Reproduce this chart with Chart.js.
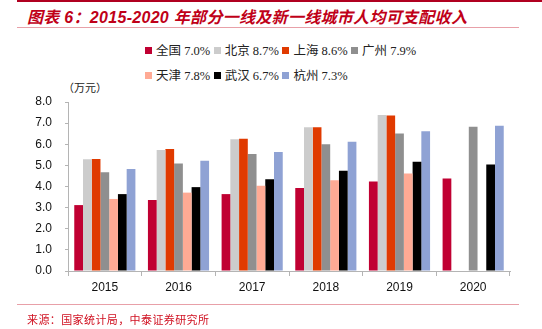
<!DOCTYPE html>
<html>
<head>
<meta charset="utf-8">
<script src="https://cdn.jsdelivr.net/npm/chart.js@4/dist/chart.umd.min.js"></script>
<style>
  html, body { margin: 0; padding: 0; background: #fff; }
  #wrap { position: relative; width: 542px; height: 329px; overflow: hidden; }
  #area { position: absolute; left: 0; top: 0; }
  .topline { position: absolute; left: 17px; top: 0; width: 525px; height: 2px; background: #b00020; }
  .thin { position: absolute; left: 17px; width: 502px; height: 1px; background: #e8a0a8; }
  #title { position: absolute; left: 27px; top: 4px; font: italic bold 16px "Liberation Sans", "Noto Sans CJK SC", sans-serif; color: #c00018; white-space: nowrap; letter-spacing: 0.3px; }
  #unit { position: absolute; left: 63px; top: 79px; font: 11px "Noto Sans CJK SC", sans-serif; color: #222; }
  #legend { position: absolute; left: 145px; top: 43px; width: 280px; }
  .item { position: absolute; white-space: nowrap; font: 12.5px "Liberation Serif", "Noto Sans CJK SC", serif; color: #222; line-height: 16px; }
  .item i { display: inline-block; width: 7px; height: 7px; margin-right: 4px; vertical-align: 1px; }
  #source { position: absolute; left: 27px; top: 311px; font: 11px "Noto Sans CJK SC", sans-serif; color: #d01020; white-space: nowrap; letter-spacing: 0.4px; }
</style>
</head>
<body>
<div id="wrap">
  <div class="topline"></div>
  <div id="title">图表 6：2015-2020 年部分一线及新一线城市人均可支配收入</div>
  <div class="thin" style="top:27px"></div>
  <div id="legend"></div>
  <div id="unit">（万元）</div>
  <canvas id="area" width="542" height="329"></canvas>
  <div class="thin" style="top:304px"></div>
  <div id="source">来源：国家统计局，中泰证券研究所</div>
</div>
<script>
  var years = ["2015","2016","2017","2018","2019","2020"];
  var quanguo = [3.12,3.36,3.64,3.93,4.24,4.38];
  var beijing = [5.29,5.73,6.24,6.80,7.38,null];
  var shanghai = [5.30,5.77,6.26,6.80,7.36,null];
  var guangzhou = [4.67,5.09,5.54,6.00,6.51,6.83];
  var tianjin = [3.41,3.71,4.03,4.30,4.61,null];
  var wuhan = [3.64,3.97,4.34,4.74,5.17,5.04];
  var hangzhou = [4.83,5.22,5.63,6.12,6.61,6.87];

  var names = ["全国 7.0%","北京 8.7%","上海 8.6%","广州 7.9%","天津 7.8%","武汉 6.7%","杭州 7.3%"];
  var series = [quanguo, beijing, shanghai, guangzhou, tianjin, wuhan, hangzhou];
  var colors = ["#c00032","#cccccc","#e03a00","#8f8f8f","#ffaa94","#000000","#8fa2d4"];

  var datasets = [];
  for (var i = 0; i < series.length; i++) {
    datasets.push({ label: names[i], data: series[i], backgroundColor: colors[i] });
  }

  // legend: two rows, left aligned
  var leg = document.getElementById("legend");
  for (var k = 0; k < names.length; k++) {
    var row = k < 4 ? 0 : 1;
    var col = k < 4 ? k : k - 4;
    var d = document.createElement("div");
    d.className = "item";
    d.style.left = (col * 68.7) + "px";
    d.style.top = (row * 25) + "px";
    d.innerHTML = '<i style="background:' + colors[k] + '"></i>' + names[k];
    leg.appendChild(d);
  }

  var ctx = document.getElementById("area");
  var myChart = new Chart(ctx, {
    type: 'bar',
    data: { labels: years, datasets: datasets },
    options: {
      responsive: false,
      animation: false,
      layout: { padding: { top: 102, right: 32, bottom: 38, left: 0 } },
      datasets: { bar: { categoryPercentage: 0.83, barPercentage: 1.0 } },
      plugins: { legend: { display: false }, tooltip: { enabled: false } },
      scales: {
        x: {
          grid: { display: true, drawOnChartArea: false, offset: true, tickLength: 5, color: '#b4b4b4' },
          border: { color: '#b4b4b4' },
          ticks: { color: '#111', padding: 4, font: { family: '"Liberation Sans", Arial, sans-serif', size: 12 } },
          afterFit: function (s) { s.height = 20; }
        },
        y: {
          min: 0, max: 8,
          grid: { display: true, drawOnChartArea: false, tickLength: 3, color: '#b4b4b4' },
          border: { color: '#b4b4b4' },
          ticks: {
            stepSize: 1, padding: 13, color: '#111',
            font: { family: '"Liberation Sans", Arial, sans-serif', size: 12 },
            callback: function (v) { return v.toFixed(1); }
          },
          afterFit: function (s) { s.width = 68; }
        }
      }
    }
  });
</script>
</body>
</html>
